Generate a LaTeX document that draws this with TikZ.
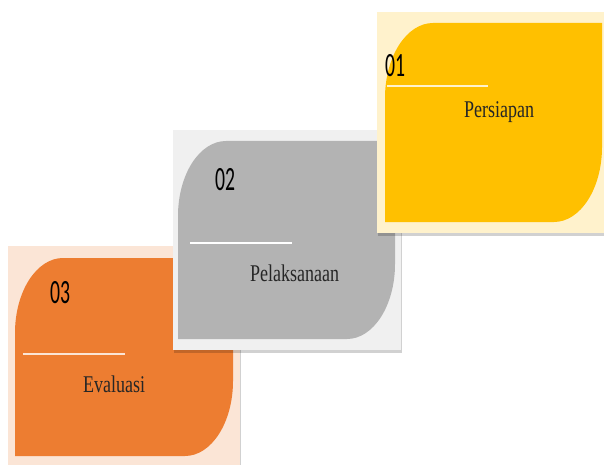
\documentclass[tikz,border=0pt]{standalone}
\usepackage{fontspec}
\setmainfont{Liberation Serif}
\newfontfamily\numfont[FakeStretch=0.58]{Carlito}
\newfontfamily\stepfont[FakeStretch=0.75]{Liberation Serif}
\usepackage{xcolor}
\usetikzlibrary{shadows}

\definecolor{yellowleaf}{HTML}{FFC000}
\definecolor{yellowbg}{HTML}{FFF2CC}
\definecolor{grayleaf}{HTML}{B3B3B3}
\definecolor{graybg}{HTML}{F0F0F0}
\definecolor{orangeleaf}{HTML}{ED7D31}
\definecolor{orangebg}{HTML}{FBE5D6}

\begin{document}
\begin{tikzpicture}[
        x=1pt, y=-1pt,
        card/.style={rectangle, inner sep=0pt, anchor=north west,
            drop shadow={shadow xshift=1pt, shadow yshift=-3pt, opacity=0.18, fill=black}},
        number/.style={anchor=base west, inner sep=0pt, font=\numfont\fontsize{34}{34}\selectfont},
        label/.style={anchor=base west, inner sep=0pt, font=\stepfont\fontsize{24}{24}\selectfont, text=black!85},
        rule/.style={line width=2.5pt}
    ]
    \useasboundingbox (0,0) rectangle (604,465);

    % step 03
    \node (evalcard) [card, fill=orangebg, minimum width=232pt, minimum height=226pt] at (8,246) {};
    \fill[orangeleaf] (15,333) .. controls (15,291.6) and (36.5,258) .. (63,258) -- (233,258) -- (233,381)
        .. controls (233,422.4) and (211.5,456) .. (185,456) -- (15,456) -- cycle;
    \node (evalnum) [number] at (50,303) {03};
    \draw[rule, orangebg] (23,354) -- (125,354);
    \node (evaltext) [label] at (83,392) {Evaluasi};

    % step 02
    \node (pelakcard) [card, fill=graybg, minimum width=228pt, minimum height=220pt] at (173,130) {};
    \fill[grayleaf] (178,216) .. controls (178,174.6) and (199.5,141) .. (226,141) -- (395,141) -- (395,264)
        .. controls (395,305.4) and (373.5,339) .. (347,339) -- (178,339) -- cycle;
    \node (pelaknum) [number] at (215,190) {02};
    \draw[rule, white] (190,243) -- (292,243);
    \node (pelaktext) [label] at (250,281) {Pelaksanaan};

    % step 01
    \node (persicard) [card, fill=yellowbg, minimum width=232pt, minimum height=221pt] at (377,12) {};
    \fill[yellowleaf] (385,98) .. controls (385,56.6) and (406.5,23) .. (433,23) -- (602,23) -- (602,147)
        .. controls (602,188.4) and (580.5,222) .. (554,222) -- (385,222) -- cycle;
    \node (persinum) [number] at (385,77) {01};
    \draw[rule, yellowbg] (387,86) -- (488,86);
    \node (persitext) [label] at (464,118) {Persiapan};

\end{tikzpicture}
\end{document}
